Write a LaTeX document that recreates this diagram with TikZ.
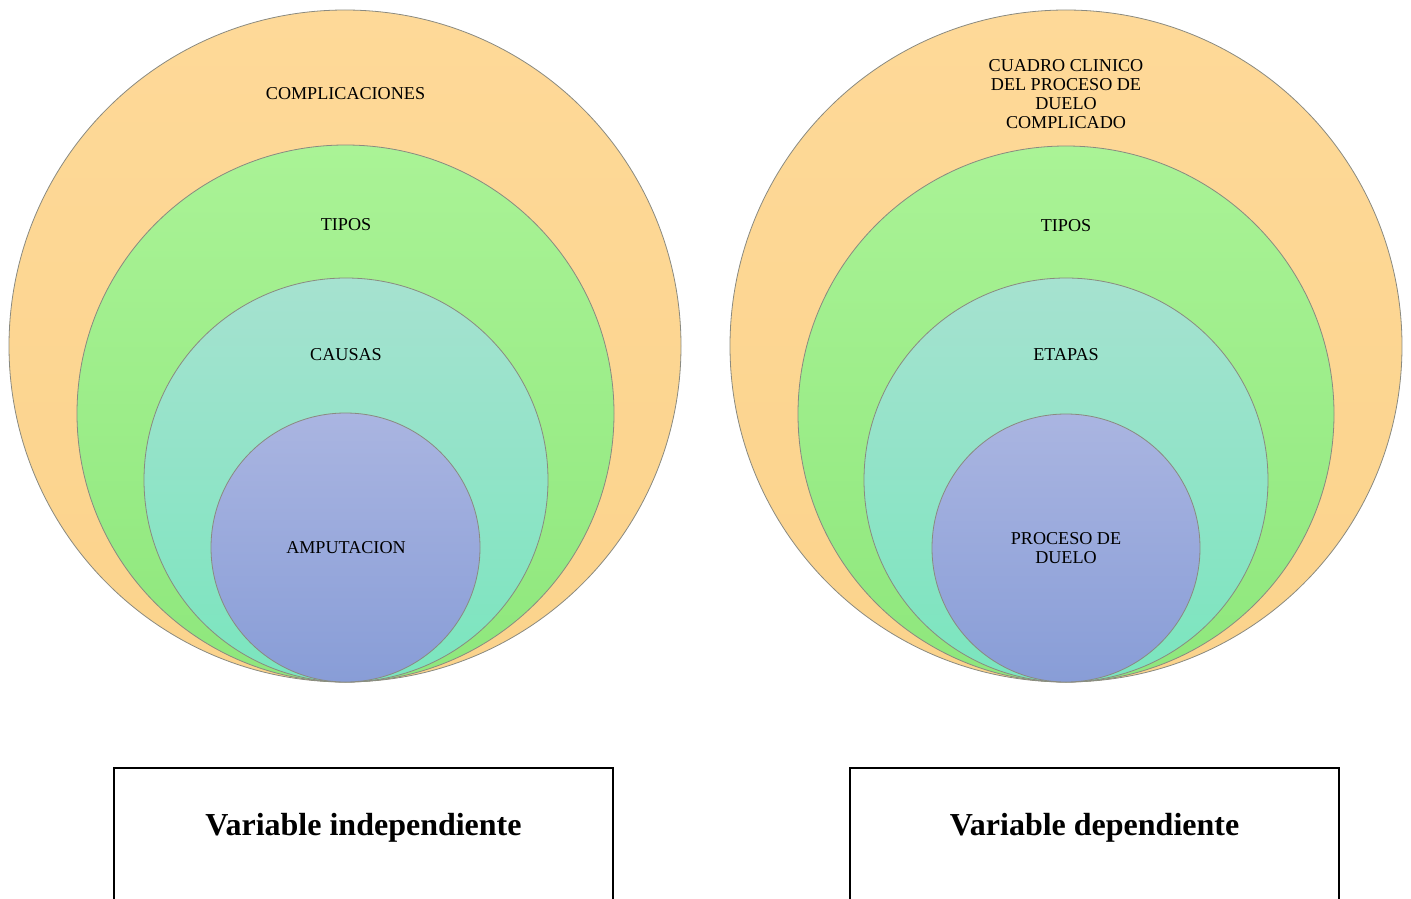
\documentclass[tikz,border=0pt]{standalone}
\usepackage{fontspec}
\setmainfont{Liberation Serif}
\definecolor{orT}{HTML}{FED998}
\definecolor{orB}{HTML}{FBD38C}
\definecolor{grT}{HTML}{AAF396}
\definecolor{grB}{HTML}{8EE77C}
\definecolor{tlT}{HTML}{A6E2D0}
\definecolor{tlB}{HTML}{7AE5BE}
\definecolor{blT}{HTML}{AAB5E1}
\definecolor{blB}{HTML}{889DD7}
\definecolor{rim}{HTML}{8A8A80}
\tikzset{
  ring/.style={circle, inner sep=0pt, draw=rim, line width=0.6pt},
  lab/.style={font=\fontsize{13.6}{14.25}\selectfont, align=center, inner sep=0pt},
  varbox/.style={draw=black, line width=1.5pt},
  vartext/.style={font=\fontsize{24}{28}\selectfont\bfseries, inner sep=0pt}
}
\begin{document}
\begin{tikzpicture}[x=0.75pt,y=-0.75pt]
\useasboundingbox (0,0) rectangle (1411,899);
% left set
\node[ring, minimum size=672*0.75pt, top color=orT, bottom color=orB] (L1) at (345,346) {};
\node[ring, minimum size=537*0.75pt, top color=grT, bottom color=grB] (L2) at (345.5,413.5) {};
\node[ring, minimum size=404*0.75pt, top color=tlT, bottom color=tlB] (L3) at (346,480) {};
\node[ring, minimum size=269*0.75pt, top color=blT, bottom color=blB] (L4) at (345.5,547.5) {};
\node[lab] (l1t) at (345.5,94) {COMPLICACIONES};
\node[lab] (l2t) at (346,225) {TIPOS};
\node[lab] (l3t) at (346,355) {CAUSAS};
\node[lab] (l4t) at (346,548) {AMPUTACION};
% right set
\node[ring, minimum size=672*0.75pt, top color=orT, bottom color=orB] (R1) at (1066,346) {};
\node[ring, minimum size=536*0.75pt, top color=grT, bottom color=grB] (R2) at (1066,414) {};
\node[ring, minimum size=404*0.75pt, top color=tlT, bottom color=tlB] (R3) at (1066,480) {};
\node[ring, minimum size=268*0.75pt, top color=blT, bottom color=blB] (R4) at (1066,548) {};
\node[lab] (r1t) at (1066,94.5) {CUADRO CLINICO\\DEL PROCESO DE\\DUELO\\COMPLICADO};
\node[lab] (r2t) at (1066,226) {TIPOS};
\node[lab] (r3t) at (1066,355) {ETAPAS};
\node[lab] (r4t) at (1066,548) {PROCESO DE\\DUELO};
% boxes
\draw[varbox] (114,910) -- (114,768) -- (613,768) -- (613,910);
\draw[varbox] (850,910) -- (850,768) -- (1339,768) -- (1339,910);
\node[vartext] (vi) at (363.5,828) {Variable independiente};
\node[vartext] (vd) at (1094.5,828) {Variable dependiente};
\end{tikzpicture}
\end{document}
